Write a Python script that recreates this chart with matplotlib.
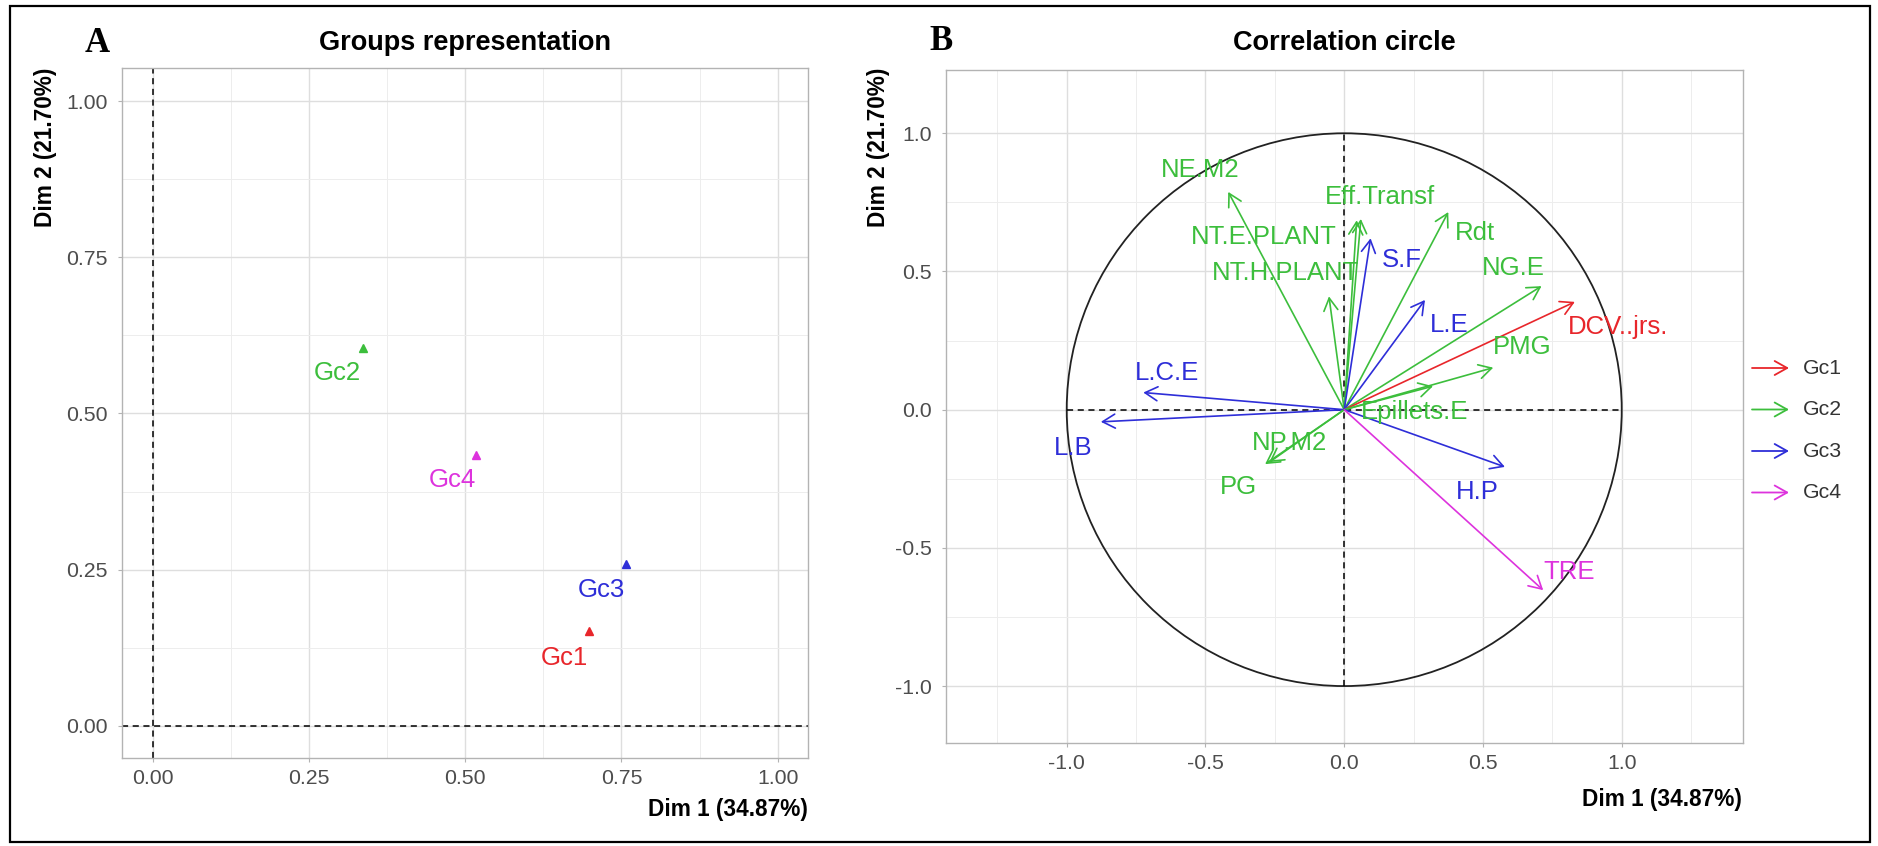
import matplotlib
matplotlib.use('Agg')
import matplotlib.pyplot as plt
from matplotlib.patches import Circle, Rectangle
from matplotlib.ticker import MultipleLocator, FormatStrFormatter

plt.rcParams['font.family'] = ['Liberation Sans', 'DejaVu Sans']
plt.rcParams['axes.unicode_minus'] = False

# groups
groups = ['Gc1', 'Gc2', 'Gc3', 'Gc4']
group_colors = ['#E8262B', '#3CBE3C', '#2E2ED8', '#DD33DD']

# panel A : group coordinates
grp_x = [0.698, 0.336, 0.758, 0.517]
grp_y = [0.151, 0.605, 0.259, 0.434]

# panel B : variable coordinates (Dim 1, Dim 2) and group of each variable
var_names = ['NE.M2', 'Eff.Transf', 'NT.E.PLANT', 'NT.H.PLANT', 'Rdt', 'S.F',
             'NG.E', 'L.E', 'DCV..jrs.', 'PMG', 'Epillets.E', 'L.C.E', 'L.B',
             'NP.M2', 'PG', 'H.P', 'TRE']
var_x = [-0.418, 0.060, 0.045, -0.055, 0.375, 0.095, 0.711, 0.291, 0.831,
         0.537, 0.320, -0.724, -0.877, -0.270, -0.285, 0.579, 0.717]
var_y = [0.788, 0.690, 0.685, 0.410, 0.715, 0.620, 0.447, 0.397, 0.390,
         0.152, 0.085, 0.062, -0.044, -0.190, -0.197, -0.207, -0.653]
var_group = ['Gc2', 'Gc2', 'Gc2', 'Gc2', 'Gc2', 'Gc3', 'Gc2', 'Gc3', 'Gc1',
             'Gc2', 'Gc2', 'Gc3', 'Gc3', 'Gc2', 'Gc2', 'Gc3', 'Gc4']

# label placement (repelled positions)
grp_lab_off = [(-0.04, -0.042), (-0.04, -0.04), (-0.04, -0.042), (-0.038, -0.04)]
var_lab_xy = [(-0.52, 0.866), (0.128, 0.77), (-0.29, 0.625), (-0.211, 0.493),
              (0.47, 0.64), (0.207, 0.54), (0.61, 0.514), (0.38, 0.305),
              (0.987, 0.30), (0.64, 0.225), (0.255, -0.01), (-0.64, 0.131),
              (-0.978, -0.137), (-0.198, -0.122), (-0.382, -0.279),
              (0.48, -0.297), (0.81, -0.586)]

W, H = 1878, 846
fig = plt.figure(figsize=(W / 100, H / 100), dpi=100)
col = dict(zip(groups, group_colors))


def px_axes(l, t, r, b):
    return fig.add_axes([l / W, (H - b) / H, (r - l) / W, (b - t) / H])


def style(ax, major, minor, fmt):
    ax.set_facecolor('white')
    for s in ax.spines.values():
        s.set_color('#B3B3B3')
        s.set_linewidth(1.0)
    ax.xaxis.set_major_locator(MultipleLocator(major))
    ax.yaxis.set_major_locator(MultipleLocator(major))
    ax.xaxis.set_minor_locator(MultipleLocator(minor))
    ax.yaxis.set_minor_locator(MultipleLocator(minor))
    ax.xaxis.set_major_formatter(FormatStrFormatter(fmt))
    ax.yaxis.set_major_formatter(FormatStrFormatter(fmt))
    ax.grid(which='major', color='#DEDEDE', lw=1.0, zorder=0)
    ax.grid(which='minor', color='#EDEDED', lw=0.7, zorder=0)
    ax.set_axisbelow(True)
    ax.tick_params(which='major', length=3, color='#B3B3B3', labelsize=15.3,
                   labelcolor='#4D4D4D')
    ax.tick_params(axis='x', which='major', pad=5)
    ax.tick_params(axis='y', which='major', pad=7)
    ax.tick_params(which='minor', length=0)


dash = dict(ls=(0, (4, 3)), color='black', lw=1.1)

# ---- panel A
ax1 = px_axes(122, 68, 808, 758)
style(ax1, 0.25, 0.125, '%.2f')
ax1.set_xlim(-0.049, 1.0485)
ax1.set_ylim(-0.0516, 1.053)
ax1.axvline(0, **dash, zorder=2)
ax1.axhline(0, **dash, zorder=2)
for g, x, y, off in zip(groups, grp_x, grp_y, grp_lab_off):
    ax1.plot(x, y, marker='^', ms=6, color=col[g], ls='none', zorder=3)
    ax1.text(x + off[0], y + off[1], g, color=col[g], fontsize=18.5,
             ha='center', va='center', zorder=4)

# ---- panel B
ax2 = px_axes(946, 70, 1743, 743)
style(ax2, 0.5, 0.25, '%.1f')
ax2.set_xlim(-1.435, 1.437)
ax2.set_ylim(-1.206, 1.229)
ax2.add_patch(Circle((0, 0), 1, fill=False, ec='#222222', lw=1.3, zorder=2))
ax2.plot([-1, 1], [0, 0], **dash, zorder=2)
ax2.plot([0, 0], [-1, 1], **dash, zorder=2)
astyle = '->,head_length=0.5,head_width=0.28'
for n, x, y, g in zip(var_names, var_x, var_y, var_group):
    ax2.annotate('', xy=(x, y), xytext=(0, 0),
                 arrowprops=dict(arrowstyle=astyle, color=col[g], lw=1.2,
                                 shrinkA=0, shrinkB=0, mutation_scale=18),
                 zorder=3)
for n, (lx, ly), g in zip(var_names, var_lab_xy, var_group):
    ax2.text(lx, ly, n, color=col[g], fontsize=18.5, ha='center',
             va='center', zorder=4)

# legend
for i, g in enumerate(groups):
    yy = H - (368 + i * 41.5)
    fig.patches.append(matplotlib.patches.FancyArrowPatch(
        (1752, yy), (1789, yy), transform=None, arrowstyle=astyle,
        mutation_scale=18, color=col[g], lw=1.3, shrinkA=0, shrinkB=0))
    fig.text(1803 / W, yy / H, g, fontsize=15.3, color='#333333',
             ha='left', va='center')

# titles and axis labels
fig.text(465 / W, (H - 43) / H, 'Groups representation', fontsize=19.5,
         fontweight='bold', ha='center', va='center')
fig.text(1344 / W, (H - 43) / H, 'Correlation circle', fontsize=19.5,
         fontweight='bold', ha='center', va='center')
fig.text(97 / W, (H - 43) / H, 'A', fontsize=25, fontweight='bold',
         family='Liberation Serif', ha='center', va='center')
fig.text(941 / W, (H - 41) / H, 'B', fontsize=25, fontweight='bold',
         family='Liberation Serif', ha='center', va='center')
fig.text(808 / W, 37 / H, 'Dim 1 (34.87%)', fontsize=16.3, fontweight='bold',
         ha='right', va='center')
fig.text(1742 / W, 47 / H, 'Dim 1 (34.87%)', fontsize=16.3, fontweight='bold',
         ha='right', va='center')
fig.text(46 / W, (H - 68) / H, 'Dim 2 (21.70%)', fontsize=16.3,
         fontweight='bold', rotation=90, ha='center', va='top')
fig.text(879 / W, (H - 68) / H, 'Dim 2 (21.70%)', fontsize=16.3,
         fontweight='bold', rotation=90, ha='center', va='top')

# outer frame
fig.patches.append(Rectangle((9.5 / W, 4 / H), 1860 / W, 835.5 / H,
                             transform=fig.transFigure, fill=False,
                             ec='black', lw=1.6))

fig.savefig('out.png', dpi=100)
